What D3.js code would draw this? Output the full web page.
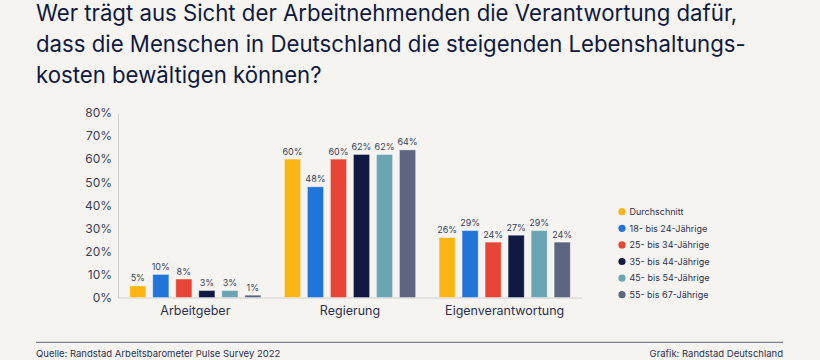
<!DOCTYPE html>
<html>
<head>
<meta charset="utf-8">
<script src="https://cdn.jsdelivr.net/npm/d3@7"></script>
<style>
  html, body { margin: 0; padding: 0; background: #F5F4F0; }
  svg { display: block; font-family: Inter, "Noto Sans", sans-serif; }
</style>
</head>
<body>
<svg id="chart" width="820" height="360"></svg>
<script>
const titleLines = [
  "Wer trägt aus Sicht der Arbeitnehmenden die Verantwortung dafür,",
  "dass die Menschen in Deutschland die steigenden Lebenshaltungs-",
  "kosten bewältigen können?"
];
const categories = ["Arbeitgeber", "Regierung", "Eigenverantwortung"];
const seriesNames = ["Durchschnitt", "18- bis 24-Jährige", "25- bis 34-Jährige", "35- bis 44-Jährige", "45- bis 54-Jährige", "55- bis 67-Jährige"];
const durchschnitt = [5, 60, 26];
const age18to24 = [10, 48, 29];
const age25to34 = [8, 60, 24];
const age35to44 = [3, 62, 27];
const age45to54 = [3, 62, 29];
const age55to67 = [1, 64, 24];
const seriesValues = [durchschnitt, age18to24, age25to34, age35to44, age45to54, age55to67];
const seriesColors = ["#FDB515", "#2175D9", "#E74536", "#0F1941", "#6BA5B4", "#5D6580"];
const yTicks = [0, 10, 20, 30, 40, 50, 60, 70, 80];
const sourceText = "Quelle: Randstad Arbeitsbarometer Pulse Survey 2022";
const creditText = "Grafik: Randstad Deutschland";

const svg = d3.select("#chart");

// Title
svg.append("g").selectAll("text").data(titleLines).join("text")
  .attr("x", 36)
  .attr("y", (d, i) => 21 + i * 31)
  .attr("fill", "#0F1941")
  .attr("font-size", "22.2px")
  .attr("font-weight", 400)
  .text(d => d);

// Scales
const x0 = d3.scaleBand().domain(categories).range([118, 582]).padding(0);
const x1 = d3.scaleBand().domain(seriesNames).range([0, x0.bandwidth()])
  .paddingInner(0.3).paddingOuter(0.51);
const y = d3.scaleLinear().domain([0, 80]).range([297.5, 113]);

// Y axis
const yAxis = svg.append("g").attr("transform", "translate(118,0)")
  .call(d3.axisLeft(y).tickValues(yTicks).tickFormat(d => d + "%").tickSize(0).tickPadding(6));
yAxis.select(".domain").attr("stroke", "#CFCFCF").attr("stroke-width", 1);
yAxis.selectAll("text")
  .attr("font-family", "Inter, sans-serif")
  .attr("font-size", "12px")
  .attr("fill", "#3A3F5C");

// X axis
const xAxis = svg.append("g").attr("transform", "translate(0,297.5)")
  .call(d3.axisBottom(x0).tickSize(0).tickPadding(9));
xAxis.select(".domain").attr("stroke", "#CFCFCF").attr("stroke-width", 1.2);
xAxis.selectAll("text")
  .attr("font-family", "Inter, sans-serif")
  .attr("font-size", "12.5px")
  .attr("fill", "#2D3150");

// Bars
const groups = svg.append("g").selectAll("g").data(categories).join("g")
  .attr("transform", d => `translate(${x0(d)},0)`);

groups.each(function(cat, ci) {
  const g = d3.select(this);
  const data = seriesNames.map((s, si) => ({ s, si, v: seriesValues[si][ci] }));
  g.selectAll("rect").data(data).join("rect")
    .attr("x", d => x1(d.s))
    .attr("width", x1.bandwidth())
    .attr("y", d => y(d.v))
    .attr("height", d => y(0) - y(d.v))
    .attr("fill", d => seriesColors[d.si])
    .attr("stroke", "#FFFFFF")
    .attr("stroke-opacity", 0.35)
    .attr("stroke-width", 1);
  g.selectAll("text").data(data).join("text")
    .attr("x", d => x1(d.s) + x1.bandwidth() / 2)
    .attr("y", d => y(d.v) - 4.5)
    .attr("text-anchor", "middle")
    .attr("font-size", "9px")
    .attr("fill", "#3A3F5C")
    .text(d => d.v + "%");
});

// Legend
const legend = svg.append("g").selectAll("g").data(seriesNames).join("g")
  .attr("transform", (d, i) => `translate(622,${211.7 + i * 16.6})`);
legend.append("circle").attr("r", 3.6).attr("fill", (d, i) => seriesColors[i]);
legend.append("text")
  .attr("x", 7.5).attr("y", 3.2)
  .attr("font-size", "9px")
  .attr("fill", "#2D3150")
  .text(d => d);

// Footer
svg.append("line")
  .attr("x1", 36).attr("x2", 783).attr("y1", 342.3).attr("y2", 342.3)
  .attr("stroke", "#5D6580").attr("stroke-width", 1);
svg.append("text").attr("x", 36).attr("y", 356.5)
  .attr("font-size", "9.5px").attr("fill", "#2D3150")
  .text(sourceText);
svg.append("text").attr("x", 783).attr("y", 356.5)
  .attr("text-anchor", "end")
  .attr("font-size", "9.5px").attr("fill", "#2D3150")
  .text(creditText);
</script>
</body>
</html>
